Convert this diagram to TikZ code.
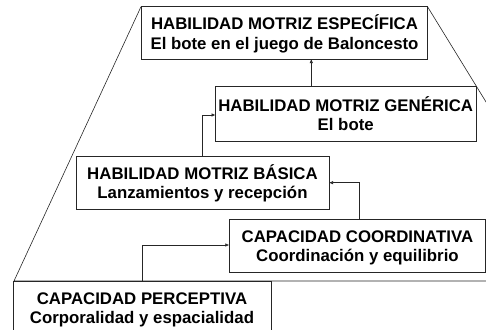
\documentclass[tikz,border=0pt]{standalone}
\usepackage{fontspec}
\setmainfont{Liberation Sans}
\usetikzlibrary{arrows.meta}
\begin{document}
\begin{tikzpicture}[x=1pt,y=-1pt,
  boxline/.style={draw=black!85,line width=0.7pt},
  conn/.style={draw=black!85,line width=0.6pt},
  arr/.style={conn,-{Latex[length=4pt,width=3.5pt]}},
  txt/.style={font=\fontsize{16.8}{19}\selectfont\bfseries,inner sep=0pt,anchor=base}]
\useasboundingbox (0,0) rectangle (486,329);
\clip (0,0) rectangle (486,329);
% trapezoid outline
\coordinate (tl) at (141,6.7);
\coordinate (tr) at (427.5,6.7);
\coordinate (bl) at (14,281);
\coordinate (br) at (600,281);
\coordinate (rr) at (596,281);
\draw[conn] (tl) -- (bl) -- (br);
\draw[conn] (tr) -- (rr);
% boxes
\draw[boxline,fill=white] (141,6.7) rectangle (427.5,59) node[pos=0.5,inner sep=0] (b1) {};
\draw[boxline,fill=white] (215.5,86.7) rectangle (476,141.7) node[pos=0.5,inner sep=0] (b2) {};
\draw[boxline,fill=white] (76,156) rectangle (329,209) node[pos=0.5,inner sep=0] (b3) {};
\draw[boxline,fill=white] (229.3,219) rectangle (485.5,272) node[pos=0.5,inner sep=0] (b4) {};
\draw[boxline,fill=white] (13,281) rectangle (271,345) node[pos=0.5,inner sep=0] (b5) {};
% named edge points
\coordinate (b1s) at (311.3,59);
\coordinate (b2n) at (311.3,86.7);
\coordinate (b2w) at (215.5,115);
\coordinate (b3n) at (202,156);
\coordinate (b3e) at (329,182.7);
\coordinate (b4n) at (359.3,219);
\coordinate (b4w) at (229.3,245);
\coordinate (b5n) at (142.3,281);
% texts
\node[txt] (t1a) at (284.5,30) {HABILIDAD MOTRIZ ESPECÍFICA};
\node[txt] (t1b) at (284.5,49) {El bote en el juego de Baloncesto};
\node[txt] (t2a) at (345.7,111.7) {HABILIDAD MOTRIZ GENÉRICA};
\node[txt] (t2b) at (345.7,130.7) {El bote};
\node[txt] (t3a) at (202.5,179.6) {HABILIDAD MOTRIZ BÁSICA};
\node[txt] (t3b) at (202.5,198.6) {Lanzamientos y recepción};
\node[txt] (t4a) at (357.4,242.6) {CAPACIDAD COORDINATIVA};
\node[txt] (t4b) at (357.4,261.6) {Coordinación y equilibrio};
\node[txt] (t5a) at (142,304.6) {CAPACIDAD PERCEPTIVA};
\node[txt] (t5b) at (142,323.6) {Corporalidad y espacialidad};
% connectors
\draw[arr] (b2n) -- (b1s);
\draw[arr] (b3n) |- (b2w);
\draw[arr] (b4n) |- (b3e);
\draw[arr] (b5n) |- (b4w);
\end{tikzpicture}
\end{document}
